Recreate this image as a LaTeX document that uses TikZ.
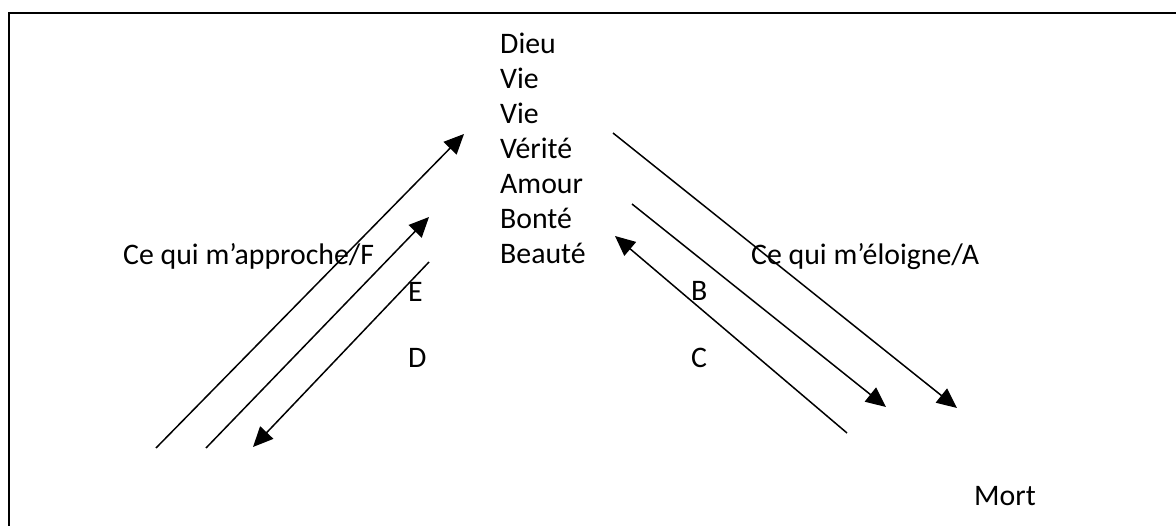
\documentclass[tikz,border=0pt]{standalone}
\usepackage{fontspec}
\setmainfont{Carlito}
\usetikzlibrary{arrows.meta}
\begin{document}
\begin{tikzpicture}[x=1pt,y=-1pt,
  lbl/.style={anchor=base west,inner sep=0pt,font=\fontsize{29.8}{36}\selectfont},
  arr/.style={line width=1.5pt,-{Triangle[length=20pt,width=18pt]}},
  plain/.style={line width=1.5pt}]
\useasboundingbox (0,0) rectangle (1176,526);
% frame (top and left edges)
\coordinate (fTR) at (1176,13);
\coordinate (fTL) at (8.5,13);
\coordinate (fBL) at (8.5,526);
\draw[line width=2pt] (fTR) -- (fTL) -- (fBL);
% column of words
\node[lbl] (dieu) at (500,54) {Dieu};
\node[lbl] (vie1) at (500,89) {Vie};
\node[lbl] (vie2) at (500,124) {Vie};
\node[lbl] (verite) at (500,158.5) {Vérité};
\node[lbl] (amour) at (500,193.5) {Amour};
\node[lbl] (bonte) at (500,228.5) {Bonté};
\node[lbl] (beaute) at (500,264) {Beauté};
\node[lbl] (approche) at (123,264.5) {Ce qui m’approche/F};
\node[lbl] (eloigne) at (751,264.5) {Ce qui m’éloigne/A};
\node[lbl] (E) at (408,301.5) {E};
\node[lbl] (D) at (408,368) {D};
\node[lbl] (B) at (691,301) {B};
\node[lbl] (C) at (691,368) {C};
\node[lbl] (mort) at (974,505) {Mort};
% arrow end points
\coordinate (l1a) at (156,448); \coordinate (l1b) at (464,134);
\coordinate (l2a) at (206,448); \coordinate (l2b) at (429,217);
\coordinate (l3a) at (429,262); \coordinate (l3b) at (253,447);
\coordinate (r1a) at (613,133); \coordinate (r1b) at (957,408);
\coordinate (r2a) at (632,204); \coordinate (r2b) at (886,407);
\coordinate (r3a) at (847,433); \coordinate (r3b) at (615,236);
\draw[arr] (l1a) -- (l1b);
\draw[arr] (l2a) -- (l2b);
\draw[arr] (l3a) -- (l3b);
\draw[arr] (r1a) -- (r1b);
\draw[arr] (r2a) -- (r2b);
\draw[arr] (r3a) -- (r3b);
\end{tikzpicture}
\end{document}
